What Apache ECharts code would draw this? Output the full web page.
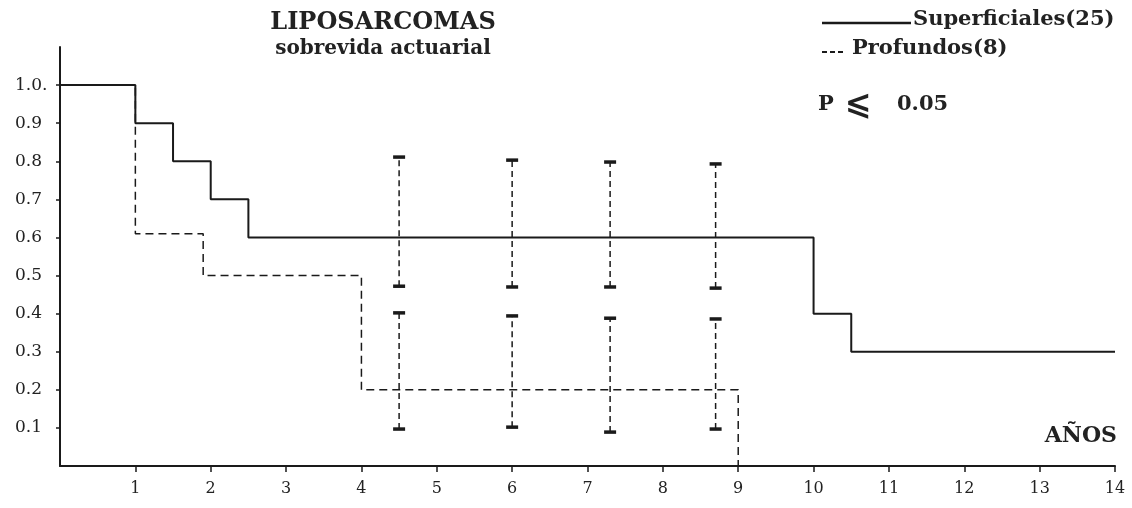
<!DOCTYPE html>
<html>
<head>
<meta charset="utf-8">
<script src="https://cdn.jsdelivr.net/npm/echarts@6/dist/echarts.min.js"></script>
<style>
    html, body { margin: 0; padding: 0; background: #fff; }
    #chart { width: 1132px; height: 508px; }
</style>
</head>
<body>
<div id="chart"></div>
<script>
    // curvas de sobrevida (años, fracción)
    var supYears = [0, 1, 1.5, 2, 2.5, 10, 10.5, 14];
    var supSurv = [1.0, 0.9, 0.8, 0.7, 0.6, 0.4, 0.3, 0.3];
    var proYears = [0, 1, 1.9, 4, 9, 9];
    var proSurv = [1.0, 0.61, 0.5, 0.2, 0.2, 0];

    // intervalos de confianza
    var ciYears = [4.5, 6, 7.3, 8.7];
    var supHigh = [0.811, 0.803, 0.798, 0.793];
    var supLow = [0.472, 0.470, 0.470, 0.467];
    var proHigh = [0.402, 0.394, 0.388, 0.386];
    var proLow = [0.097, 0.102, 0.089, 0.097];

    var xTicks = [1, 2, 3, 4, 5, 6, 7, 8, 9, 10, 11, 12, 13, 14];
    var yTicks = [0.1, 0.2, 0.3, 0.4, 0.5, 0.6, 0.7, 0.8, 0.9, 1.0];

    var ink = '#1a1a1a';
    var serif = 'DejaVu Serif';

    function pairs(xs, ys) {
        return xs.map(function (x, i) { return [x, ys[i]]; });
    }

    function ciRows(lo, hi) {
        return ciYears.map(function (x, i) { return [x, lo[i], hi[i]]; });
    }

    function renderCI(params, api) {
        var x = api.value(0);
        var lo = api.coord([x, api.value(1)]);
        var hi = api.coord([x, api.value(2)]);
        var w = 6;
        return {
            type: 'group',
            children: [{
                type: 'line',
                shape: { x1: lo[0], y1: lo[1], x2: hi[0], y2: hi[1] },
                style: { stroke: ink, lineWidth: 1.5, lineDash: [6, 4] }
            }, {
                type: 'line',
                shape: { x1: hi[0] - w, y1: hi[1], x2: hi[0] + w, y2: hi[1] },
                style: { stroke: ink, lineWidth: 3.5 }
            }, {
                type: 'line',
                shape: { x1: lo[0] - w, y1: lo[1], x2: lo[0] + w, y2: lo[1] },
                style: { stroke: ink, lineWidth: 3.5 }
            }]
        };
    }

    var chart = echarts.init(document.getElementById('chart'));
    chart.setOption({
        animation: false,
        backgroundColor: '#fff',
        title: {
            text: 'LIPOSARCOMAS',
            subtext: 'sobrevida actuarial',
            left: 378,
            top: 6,
            textAlign: 'center',
            itemGap: 4,
            textStyle: { fontFamily: serif, fontWeight: 'bold', fontSize: 24, color: '#222' },
            subtextStyle: { fontFamily: serif, fontWeight: 'bold', fontSize: 20, color: '#222' }
        },
        grid: { left: 60, right: 17, top: 47, bottom: 42 },
        xAxis: {
            type: 'value',
            min: 0,
            max: 14,
            interval: 1,
            splitLine: { show: false },
            axisLine: { lineStyle: { color: ink, width: 2 } },
            axisTick: { length: 6, customValues: xTicks, lineStyle: { color: ink, width: 1.5 } },
            axisLabel: {
                margin: 15,
                customValues: xTicks,
                color: '#222',
                fontFamily: serif,
                fontSize: 16
            }
        },
        yAxis: {
            type: 'value',
            min: 0,
            max: 1.1,
            interval: 0.1,
            splitLine: { show: false },
            axisLine: { lineStyle: { color: ink, width: 2 } },
            axisTick: { length: 4, customValues: yTicks, lineStyle: { color: ink, width: 1.5 } },
            axisLabel: {
                margin: 45,
                align: 'left',
                customValues: yTicks,
                color: '#222',
                fontFamily: serif,
                fontSize: 17,
                formatter: function (v) {
                    if (Math.abs(v - 1) < 1e-6) return '1.0.';
                    return v.toFixed(1);
                }
            }
        },
        series: [{
            name: 'Profundos(8)',
            type: 'line',
            step: 'end',
            symbol: 'none',
            data: pairs(proYears, proSurv),
            lineStyle: { color: ink, width: 1.5, type: [8, 5] },
            z: 2
        }, {
            name: 'Superficiales(25)',
            type: 'line',
            step: 'end',
            symbol: 'none',
            data: pairs(supYears, supSurv),
            lineStyle: { color: ink, width: 2 },
            z: 3
        }, {
            type: 'custom',
            renderItem: renderCI,
            data: ciRows(supLow, supHigh),
            z: 4
        }, {
            type: 'custom',
            renderItem: renderCI,
            data: ciRows(proLow, proHigh),
            z: 4
        }],
        graphic: [{
            type: 'line',
            shape: { x1: 822, y1: 23, x2: 911, y2: 23 },
            style: { stroke: ink, lineWidth: 2.5 }
        }, {
            type: 'text',
            left: 913,
            top: 9,
            style: { text: 'Superficiales(25)', font: 'bold 21px "DejaVu Serif"', fill: '#222' }
        }, {
            type: 'line',
            shape: { x1: 822, y1: 52, x2: 843, y2: 52 },
            style: { stroke: ink, lineWidth: 2, lineDash: [5, 3] }
        }, {
            type: 'text',
            left: 852,
            top: 38,
            style: { text: 'Profundos(8)', font: 'bold 21px "DejaVu Serif"', fill: '#222' }
        }, {
            type: 'text',
            left: 818,
            top: 94,
            style: { text: 'P', font: 'bold 21px "DejaVu Serif"', fill: '#222' }
        }, {
            type: 'text',
            left: 845,
            top: 90,
            style: { text: '⩽', font: 'bold 32px "DejaVu Sans"', fill: '#222' }
        }, {
            type: 'text',
            left: 897,
            top: 94,
            style: { text: '0.05', font: 'bold 21px "DejaVu Serif"', fill: '#222' }
        }, {
            type: 'text',
            right: 15,
            top: 425,
            style: { text: 'AÑOS', font: 'bold 22px "DejaVu Serif"', fill: '#222' }
        }]
    });
</script>
</body>
</html>
